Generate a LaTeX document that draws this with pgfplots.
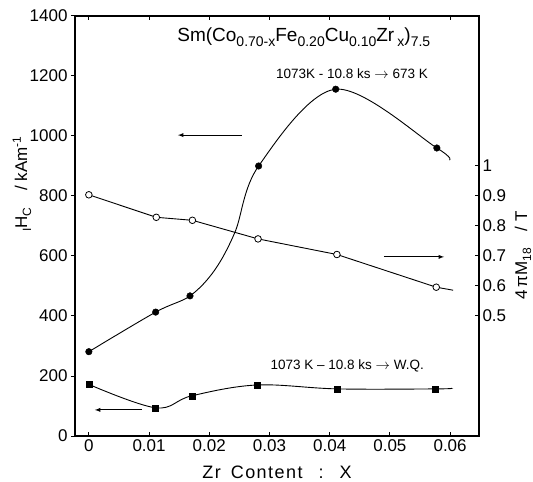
\documentclass[border=0pt]{standalone}
\usepackage{pgfplots}
\pgfplotsset{compat=1.18}
\usepackage{fontspec}
\setmainfont{Liberation Sans}
\newcommand\sub[1]{\raisebox{-0.45ex}{\fontsize{14}{14}\selectfont #1}}
\newcommand\lsub[1]{\raisebox{-0.45ex}{\fontsize{12}{12}\selectfont #1}}

\begin{document}
\begin{tikzpicture}
\pgfplotsset{
  every axis/.append style={
    scale only axis, width=404pt, height=420pt,
    xmin=-0.0023, xmax=0.0648,
    axis line style={line width=1.3pt},
    tick style={line width=1pt, black},
    major tick length=4pt,
    tick label style={font=\fontsize{17}{17}\selectfont},
    /pgf/number format/assume math mode=true,
    /pgf/number format/set thousands separator={},
  },
}
\begin{axis}[
  at={(0,0)}, anchor=south west,
  ymin=0, ymax=1400,
  ytick={0,200,...,1400},
  xtick={0,0.01,...,0.06},
  xticklabels={0,0.01,0.02,0.03,0.04,0.05,0.06},
  scaled x ticks=false,
  ytick pos=left, xtick pos=both,
  xtick align=inside, ytick align=outside,
  ylabel={\lsub{I}H\lsub{C}\quad/ kAm\textsuperscript{-1}},
  ylabel style={font=\fontsize{17}{17}\selectfont, at={(rel axis cs:0,0.6)}, yshift=53pt, anchor=center},
  xlabel={Zr\hspace{10pt}Content\hspace{16pt}:\hspace{16pt}X},
  xlabel style={font=\fontsize{18}{18}\selectfont\addfontfeatures{LetterSpace=8}, at={(0.5,-36pt)}, anchor=center},
  clip=false,
]
% 1073K-10.8ks -> 673K (filled circles)
\addplot[black, line width=0.9pt, smooth, tension=0.55] coordinates {
  (0,281) (0.0111,413) (0.0168,467) (0.0209,553) (0.0243,681) (0.0282,900)
  (0.0410,1156) (0.0578,960) (0.0599,920)};
\addplot[only marks, mark=*, mark size=3.3pt, black] coordinates {
  (0,281) (0.0111,413) (0.0168,467) (0.0282,900) (0.0410,1156) (0.0578,960)};
% 1073K-10.8ks -> W.Q. (squares)
\addplot[black, line width=0.9pt, smooth, tension=0.6] coordinates {
  (0,172) (0.0111,94) (0.0171,134) (0.0279,170) (0.0413,157) (0.0576,157) (0.0602,159)};
\addplot[only marks, mark=square*, mark size=3pt, black] coordinates {
  (0,172) (0.0111,94) (0.0171,134) (0.0279,170) (0.0413,157) (0.0576,157)};
\draw[->, >=latex, line width=0.9pt] (axis cs:0.0254,1003) -- (axis cs:0.0148,1003);
\draw[->, >=latex, line width=0.9pt] (axis cs:0.0088,87) -- (axis cs:0.0010,87);
\draw[->, >=latex, line width=0.9pt] (axis cs:0.0490,597) -- (axis cs:0.0590,597);
\node[font=\fontsize{19}{19}\selectfont] at (axis cs:0.0357,1329)
  {Sm(Co\sub{0.70-x}Fe\sub{0.20}Cu\sub{0.10}Zr\,\sub{x})\sub{7.5}};
\node[font=\fontsize{13.5}{13.5}\selectfont] at (axis cs:0.0437,1209)
  {1073K - 10.8 ks $\rightarrow$ 673 K};
\node[font=\fontsize{13.5}{13.5}\selectfont] at (axis cs:0.0429,233)
  {1073 K -- 10.8 ks $\rightarrow$ W.Q.};
\end{axis}
\begin{axis}[
  at={(0,0)}, anchor=south west,
  ymin=0.1, ymax=1.5,
  ytick={0.5,0.6,...,1.0},
  yticklabels={0.5,0.6,0.7,0.8,0.9,1},
  axis x line=none, axis y line*=right,
  ytick align=inside,
  ylabel={4\,πM\lsub{18}\quad/ T},
  ylabel style={font=\fontsize{17}{17}\selectfont, at={(rel axis cs:1,0.43)}, yshift=-44pt, anchor=center},
]
\addplot[black, line width=0.9pt] coordinates {
  (0,0.904) (0.0112,0.829) (0.0172,0.819) (0.0281,0.757) (0.0412,0.705) (0.0577,0.596) (0.0605,0.586)};
\addplot[only marks, mark=*, mark size=3.3pt, mark options={fill=white, line width=0.8pt}, black] coordinates {
  (0,0.904) (0.0112,0.829) (0.0172,0.819) (0.0281,0.757) (0.0412,0.705) (0.0577,0.596)};
\end{axis}
\pgfresetboundingbox
\path (-75pt,-46pt) rectangle (458pt,436pt);
\end{tikzpicture}
\end{document}
